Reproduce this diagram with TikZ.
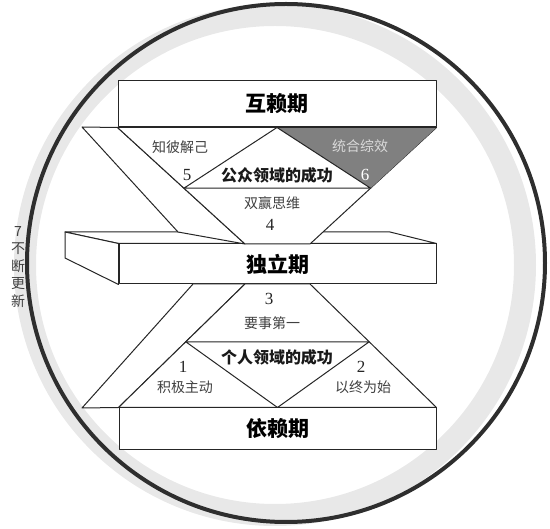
\documentclass[tikz,border=0pt]{standalone}
\usepackage{fontspec}
\newfontfamily\cjk{Noto Sans CJK SC}
\newfontfamily\numfont{Liberation Serif}
\usepackage{tikz}
\usetikzlibrary{calc}

\begin{document}
\begin{tikzpicture}[x=1pt,y=-1pt,
		edge/.style={
		  draw=black!85,
		  line width=1pt,
		  line join=round
		},
		face/.style={
		  edge,
		  fill=white
		},
		stage/.style={
		  face,
		  inner sep=0pt,
		  font=\fontsize{21}{24}\selectfont\cjk\bfseries
		},
		area/.style={font=\fontsize{16}{18}\selectfont\cjk\bfseries,text=black!90},
		habit/.style={font=\fontsize{14}{16}\selectfont\cjk,text=black!75},
		num/.style={font=\fontsize{17}{19}\selectfont\numfont,text=black!85}
		]
		\useasboundingbox (0,0) rectangle (550,529);

		% ring and shadow
		\draw[black!9,line width=22pt] (275,265) circle[radius=250];
		\draw[black!82,line width=4pt] (286,263) circle[radius=259];

		% the three stages
		\node[stage,minimum width=318,minimum height=46] (hulai) at (277,104) {互赖期};
		\node[stage,minimum width=317,minimum height=40] (duli) at (277.5,264) {独立期};
		\node[stage,minimum width=317,minimum height=42] (yilai) at (277.5,429) {依赖期};

		% slab faces
		\draw[face] (duli.north west) -- (65,232) -- (390,232) -- (duli.north east) -- cycle;
		\draw[face] (duli.north west) -- (65,232) -- (65,258) -- (duli.south west) -- cycle;

		\coordinate (ua) at (245,244);
		\coordinate (ub) at (310,244);
		\coordinate (la) at (245,284);
		\coordinate (lb) at (310,284);

		% upper half
		\draw[face] (82,127) -- (hulai.south west) -- (ua) -- (178,232) -- cycle;
		\draw[face] (hulai.south west) -- (hulai.south east) -- (ub) -- (ua) -- cycle;
		\coordinate (pl) at ($(hulai.south west)!0.521!(ua)$);
		\coordinate (pr) at ($(hulai.south east)!0.521!(ub)$);
		\fill[black!50] (hulai.south) -- (hulai.south east) -- (pr) -- cycle;
		\draw[edge] (pl) -- (hulai.south) -- (pr) -- cycle;
		\draw[edge] (hulai.south) -- (hulai.south east);

		% lower half
		\draw[face] (82,408) -- (yilai.north west) -- (la) -- (193,284) -- cycle;
		\draw[face] (la) -- (lb) -- (yilai.north east) -- (yilai.north west) -- cycle;
		\coordinate (ql) at ($(la)!0.468!(yilai.north west)$);
		\coordinate (qr) at ($(lb)!0.468!(yilai.north east)$);
		\draw[edge] (ql) -- (qr) -- (yilai.north) -- cycle;

		% labels
		\node[area] (public) at (277,175) {公众领域的成功};
		\node[habit] (h5) at (180,147) {知彼解己};
		\node[num] (n5) at (187,175) {5};
		\node[habit,text=black!15] (h6) at (360,146) {统合综效};
		\node[num,text=white] (n6) at (365,175) {6};
		\node[habit] (h4) at (272,203) {双赢思维};
		\node[num] (n4) at (270,225) {4};

		\node[num] (n3) at (269,299) {3};
		\node[habit] (h3) at (272,323) {要事第一};
		\node[area] (private) at (277,357) {个人领域的成功};
		\node[num] (n1) at (183,367) {1};
		\node[habit] (h1) at (185,387) {积极主动};
		\node[num] (n2) at (361,367) {2};
		\node[habit] (h2) at (363,387) {以终为始};

		\node[align=center,font=\fontsize{14}{17.5}\selectfont\cjk,text=black!75] (renew) at (18,267) {7\\不\\断\\更\\新};
	\end{tikzpicture}
\end{document}
